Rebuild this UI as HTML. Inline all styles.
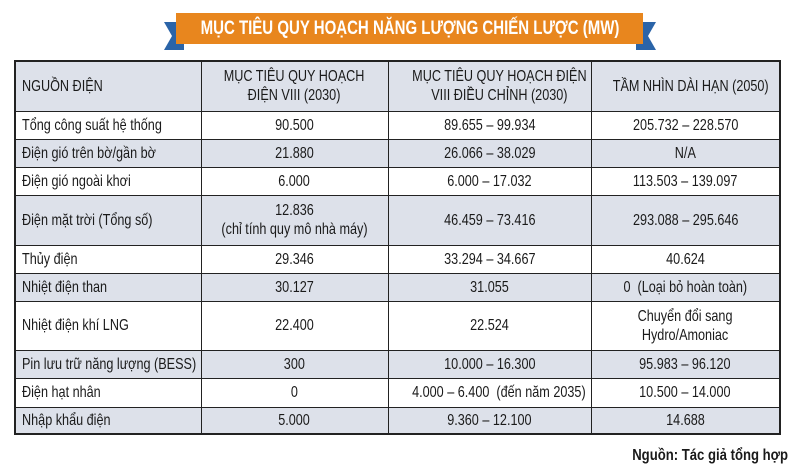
<!DOCTYPE html>
<html><head><meta charset="utf-8"><style>
body{margin:0;background:#fff;width:800px;height:472px;position:relative;overflow:hidden;font-family:"Liberation Sans","Noto Sans CJK SC",sans-serif;color:#1a1a1a;}
.ban{position:absolute;left:176px;top:13px;width:467px;height:31px;background:#e8861e;color:#fff;font-weight:bold;font-size:19px;line-height:31px;z-index:2;white-space:nowrap}
.ban span{position:absolute;left:50%;top:0;transform:translateX(-50%) scaleX(.79)}
.tl{position:absolute;left:164px;top:22px;width:20px;height:28px;background:#2b64a8;clip-path:polygon(0 0,100% 0,100% 100%,0 100%,40% 50%)}
.tr{position:absolute;left:636px;top:22px;width:20px;height:28px;background:#2b64a8;clip-path:polygon(0 0,100% 0,60% 50%,100% 100%,0 100%)}
table{position:absolute;left:14px;top:60px;border-collapse:collapse;border:2px solid #222;font-size:16px;table-layout:fixed;width:765px}
td{border:1.5px solid #222;padding:0;text-align:center;line-height:19px;white-space:nowrap;overflow:visible}
td span{display:inline-block;transform:scaleX(.79);transform-origin:center}
td:first-child{text-align:left;padding-left:6px}
td:first-child span{transform-origin:left}
tr.s td{background:#dde1ea}
.src{position:absolute;right:12px;top:447px;font-weight:bold;font-size:16px;white-space:nowrap}
.src span{display:inline-block;transform:scaleX(.82);transform-origin:right}
</style></head><body>
<div class="tl"></div><div class="tr"></div>
<div class="ban"><span>MỤC TIÊU QUY HOẠCH NĂNG LƯỢNG CHIẾN LƯỢC (MW)</span></div>
<table>
<colgroup><col style="width:186px"><col style="width:187px"><col style="width:203px"><col style="width:189px"></colgroup>
<tr class="s" style="height:50px"><td><span>NGUỒN ĐIỆN</span></td><td><span>MỤC TIÊU QUY HOẠCH<br>ĐIỆN VIII (2030)</span></td><td><span>MỤC TIÊU QUY HOẠCH ĐIỆN<br>VIII ĐIỀU CHỈNH (2030)</span></td><td><span>TẦM NHÌN DÀI HẠN (2050)</span></td></tr>
<tr style="height:28px"><td><span>Tổng công suất hệ thống</span></td><td><span>90.500</span></td><td><span>89.655 – 99.934</span></td><td><span>205.732 – 228.570</span></td></tr>
<tr class="s" style="height:28px"><td><span>Điện gió trên bờ/gần bờ</span></td><td><span>21.880</span></td><td><span>26.066 – 38.029</span></td><td><span>N/A</span></td></tr>
<tr style="height:28px"><td><span>Điện gió ngoài khơi</span></td><td><span>6.000</span></td><td><span>6.000 – 17.032</span></td><td><span>113.503 – 139.097</span></td></tr>
<tr class="s" style="height:50px"><td><span>Điện mặt trời (Tổng số)</span></td><td><span>12.836<br>(chỉ tính quy mô nhà máy)</span></td><td><span>46.459 – 73.416</span></td><td><span>293.088 – 295.646</span></td></tr>
<tr style="height:28px"><td><span>Thủy điện</span></td><td><span>29.346</span></td><td><span>33.294 – 34.667</span></td><td><span>40.624</span></td></tr>
<tr class="s" style="height:28px"><td><span>Nhiệt điện than</span></td><td><span>30.127</span></td><td><span>31.055</span></td><td><span>0 &nbsp;(Loại bỏ hoàn toàn)</span></td></tr>
<tr style="height:49px"><td><span>Nhiệt điện khí LNG</span></td><td><span>22.400</span></td><td><span>22.524</span></td><td><span>Chuyển đổi sang<br>Hydro/Amoniac</span></td></tr>
<tr class="s" style="height:28px"><td><span>Pin lưu trữ năng lượng (BESS)</span></td><td><span>300</span></td><td><span>10.000 – 16.300</span></td><td><span>95.983 – 96.120</span></td></tr>
<tr style="height:29px"><td><span>Điện hạt nhân</span></td><td><span>0</span></td><td><span>4.000 – 6.400 &nbsp;(đến năm 2035)</span></td><td><span>10.500 – 14.000</span></td></tr>
<tr class="s" style="height:27px"><td><span>Nhập khẩu điện</span></td><td><span>5.000</span></td><td><span>9.360 – 12.100</span></td><td><span>14.688</span></td></tr>
</table>
<div class="src"><span>Nguồn: Tác giả tổng hợp</span></div>
</body></html>
